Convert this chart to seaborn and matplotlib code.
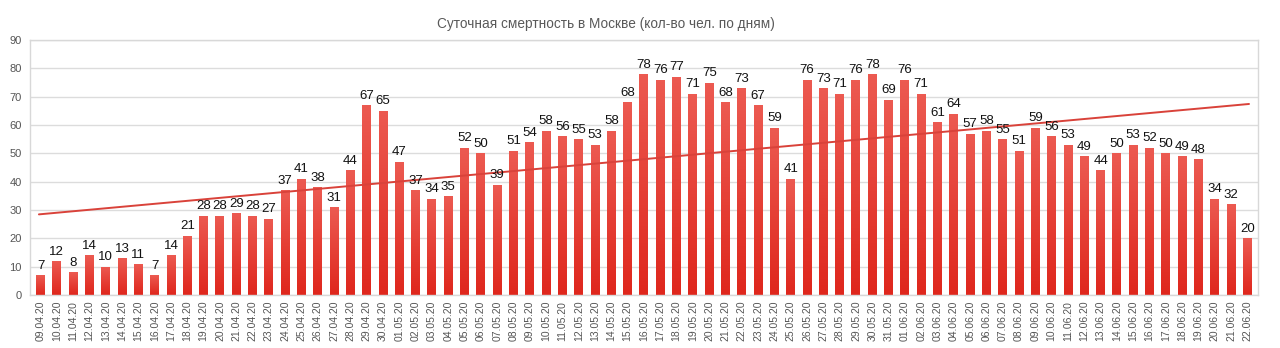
import numpy as np
import pandas as pd
import matplotlib
matplotlib.use("Agg")
import matplotlib.pyplot as plt
import seaborn as sns
from matplotlib.colors import LinearSegmentedColormap

# Daily deaths in Moscow
dates = (
    [f"{d:02d}.04.20" for d in range(9, 31)]
    + [f"{d:02d}.05.20" for d in range(1, 32)]
    + [f"{d:02d}.06.20" for d in range(1, 23)]
)
deaths = [
    7, 12, 8, 14, 10, 13, 11, 7, 14, 21, 28, 28, 29, 28, 27, 37, 41, 38, 31, 44, 67, 65,
    47, 37, 34, 35, 52, 50, 39, 51, 54, 58, 56, 55, 53, 58, 68, 78, 76, 77, 71, 75, 68, 73,
    67, 59, 41, 76, 73, 71, 76, 78, 69,
    76, 71, 61, 64, 57, 58, 55, 51, 59, 56, 53, 49, 44, 50, 53, 52, 50, 49, 48, 34, 32, 20,
]
title = "Суточная смертность в Москве (кол-во чел. по дням)"

df = pd.DataFrame({"date": dates, "deaths": deaths})

sns.set_theme(style="white")
plt.rcParams["font.family"] = ["Liberation Sans", "DejaVu Sans"]

fig = plt.figure(figsize=(12.8, 3.48), dpi=100)
ax = fig.add_axes([0.0234, 0.152, 0.9594, 0.733])

sns.barplot(data=df, x="date", y="deaths", ax=ax, color="#e8372c",
            width=0.55, saturation=1, zorder=2)

# vertical gradient fill on each bar
grad = LinearSegmentedColormap.from_list("bar", ["#df271d", "#ec5a51"])
gimg = np.linspace(0, 1, 64).reshape(-1, 1)
for p in ax.patches:
    x0, y0 = p.get_x(), p.get_y()
    w, h = p.get_width(), p.get_height()
    im = ax.imshow(gimg, cmap=grad, aspect="auto", origin="lower",
                   extent=(x0, x0 + w, y0, y0 + h), zorder=2.1)
    im.set_clip_path(p)
    p.set_facecolor("none")
    p.set_edgecolor("none")

# value labels
for i, v in enumerate(deaths):
    ax.text(i, v + 1.2, str(v), ha="center", va="bottom", fontsize=9.5,
            color="#111111", zorder=4)

# linear trend
xi = np.arange(len(deaths))
k, b = np.polyfit(xi, deaths, 1)
xs = np.array([-0.1, len(deaths) - 0.9])
ax.plot(xs, k * xs + b, color="#d9423a", lw=1.4, zorder=3)

ax.set_xlim(-0.65, len(deaths) - 0.35)
ax.set_ylim(0, 90)
ax.set_yticks(range(0, 91, 10))
ax.yaxis.grid(True, color="#dcdcdc", lw=1)
ax.set_axisbelow(True)
for s in ax.spines.values():
    s.set_color("#d8d8d8")
    s.set_linewidth(1)

ax.set_xlabel("")
ax.set_ylabel("")
ax.tick_params(axis="x", labelrotation=90, labelsize=7.5, colors="#555555", length=0, pad=4)
ax.tick_params(axis="y", labelsize=8, colors="#555555", length=0, pad=6)

fig.suptitle(title, x=0.473, y=0.95, fontsize=9.8, color="#595959")

fig.savefig("out.png", dpi=100)
